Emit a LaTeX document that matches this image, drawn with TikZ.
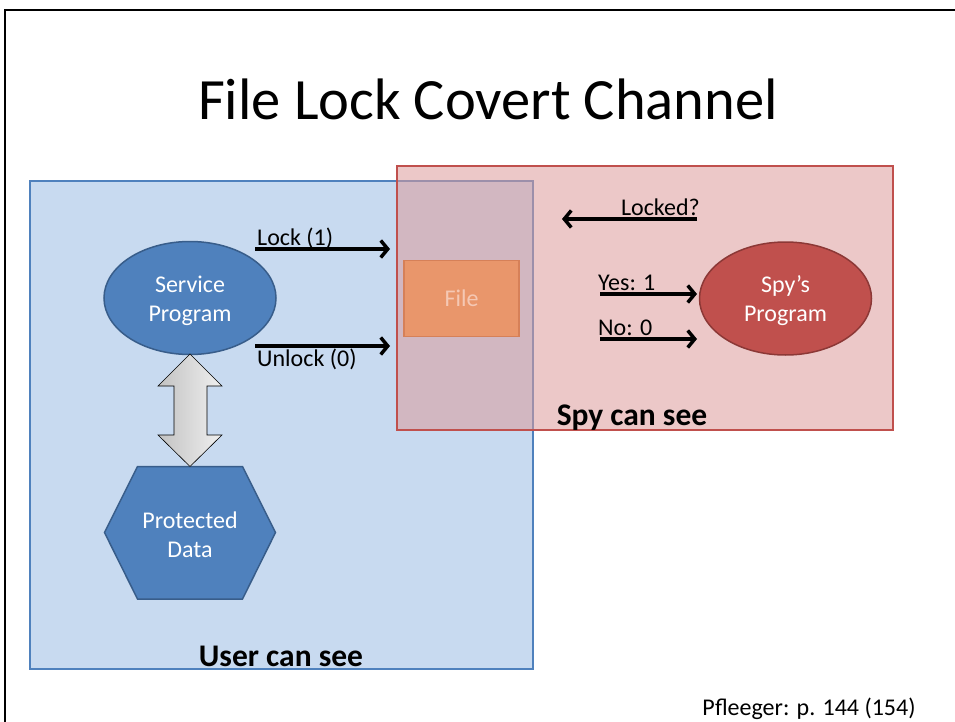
\documentclass[tikz,border=0pt]{standalone}
\usepackage{fontspec}
\setmainfont{Carlito}
\usetikzlibrary{arrows.meta,shapes.geometric}
\definecolor{userfill}{RGB}{200,218,240}
\definecolor{userline}{RGB}{79,129,189}
\definecolor{spyfill}{RGB}{220,155,155}
\definecolor{spyline}{RGB}{192,80,77}
\definecolor{progblue}{RGB}{79,129,189}
\definecolor{progblueline}{RGB}{56,93,138}
\definecolor{progred}{RGB}{192,80,77}
\definecolor{progredline}{RGB}{140,56,54}
\definecolor{filefill}{RGB}{233,150,107}
\definecolor{fileline}{RGB}{214,128,88}
\definecolor{filetext}{RGB}{245,200,180}
\tikzset{
  sig/.style={line width=3.5pt,-{Straight Barb[length=7pt,width=17pt]}},
  lbl/.style={inner sep=0pt,font=\fontsize{24}{28}\selectfont},
  zone/.style={inner sep=0pt,font=\fontsize{31.5}{36}\selectfont\bfseries},
  prog/.style={ellipse,draw,line width=1.5pt,inner sep=0pt,text=white,
    align=center,font=\fontsize{24}{29}\selectfont,
    minimum width=172pt,minimum height=113pt}
}
\begin{document}
\begin{tikzpicture}[x=1pt,y=-1pt]
\useasboundingbox (0,0) rectangle (955,722);
% slide frame
\draw[line width=2pt] (4.5,730)--(4.5,10.5)--(960,10.5);
\node[inner sep=0pt,font=\fontsize{58.5}{66}\selectfont,anchor=base] (title) at (488,120) {File Lock Covert Channel};
% the two zones
\draw[line width=2pt,draw=userline,fill=userfill] (30,181) rectangle (533,669);
\draw[line width=2pt,draw=spyline,fill=spyfill,fill opacity=.55] (397,166) rectangle (893,430);
\node[zone,anchor=base] (usersee) at (281,666) {User can see};
\node[zone,anchor=base] (spysee) at (632,425) {Spy can see};
% nodes
\node[draw=fileline,fill=filefill,line width=1.5pt,minimum width=115pt,minimum height=76pt,
  text=filetext,font=\fontsize{24}{28}\selectfont] (file) at (461.5,298.3) {File};
\node[prog,fill=progblue,draw=progblueline] (service) at (190,298) {};
\node[inner sep=0pt,text=white,align=center,font=\fontsize{24}{29}\selectfont] (servicetxt) at (190,301) {Service\\Program};
\node[prog,fill=progred,draw=progredline] (spy) at (785.5,298.5) {};
\node[inner sep=0pt,text=white,align=center,font=\fontsize{24}{29}\selectfont] (spytxt) at (785.5,301) {Spy’s\\Program};
\draw[line width=1.5pt,draw=progblueline,fill=progblue]
  (137.5,466.5)--(242.5,466.5)--(275.5,532.5)--(242.5,599)--(137.5,599)--(104.5,532.5)--cycle;
\node[inner sep=0pt,text=white,align=center,font=\fontsize{24}{29}\selectfont] (data) at (190,534.5) {Protected\\Data};
% block arrow service <-> data
\draw[line width=.6pt,left color=black!24,right color=black!6]
  (190,354)--(222,386)--(207,386)--(207,435)--(222,435)--(190,466.5)
  --(158,435)--(174,435)--(174,386)--(158,386)--cycle;
% signals
\coordinate (lockS) at (255,249); \coordinate (lockE) at (390,249);
\coordinate (unlockS) at (255,346); \coordinate (unlockE) at (390,346);
\coordinate (askS) at (697,219); \coordinate (askE) at (562,219);
\coordinate (yesS) at (600,294); \coordinate (yesE) at (697,294);
\coordinate (noS) at (600,339); \coordinate (noE) at (697,339);
\draw[sig] (lockS)--(lockE);
\draw[sig] (unlockS)--(unlockE);
\draw[sig] (askS)--(askE);
\draw[sig] (yesS)--(yesE);
\draw[sig] (noS)--(noE);
\node[lbl,anchor=base west] (lock) at (257,245) {Lock (1)};
\node[lbl,anchor=base west] (unlock) at (257,366.5) {Unlock (0)};
\node[lbl,anchor=base east] (ask) at (700,215) {Locked?};
\node[lbl,anchor=base west] (yes) at (598,290) {Yes: 1};
\node[lbl,anchor=base west] (no) at (598,335) {No: 0};
\node[lbl,anchor=base] (cite) at (809,715) {Pfleeger: p. 144 (154)};
\end{tikzpicture}
\end{document}
